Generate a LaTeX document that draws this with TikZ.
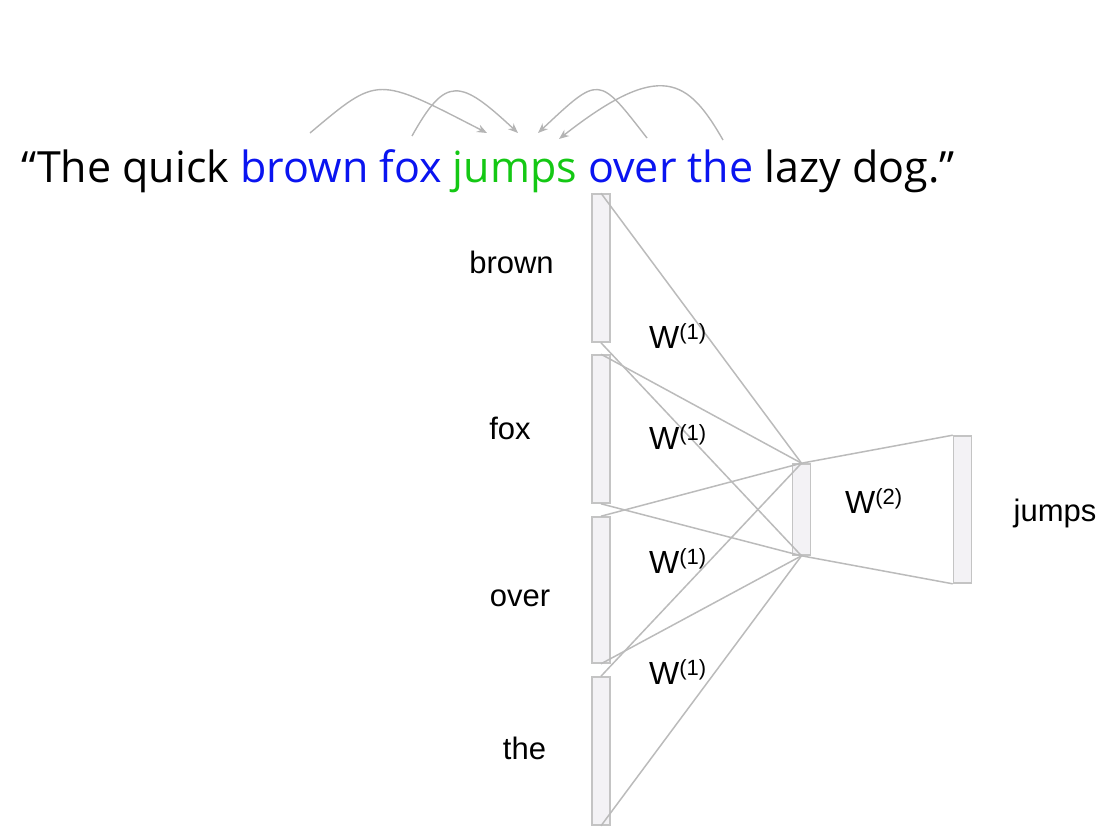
\documentclass[tikz,border=0pt]{standalone}
\usepackage{fontspec}
\setmainfont{Liberation Sans}
\newfontfamily\quotefont{Open Sans}
\usetikzlibrary{arrows.meta}
\definecolor{barfill}{HTML}{F3F2F5}
\definecolor{bardraw}{HTML}{C4C4C4}
\definecolor{linegray}{HTML}{BBBBBB}
\definecolor{arcgray}{HTML}{B4B4B4}
\definecolor{wblue}{HTML}{0A14F0}
\definecolor{wgreen}{HTML}{14C814}
\tikzset{
  bar/.style={draw=bardraw, fill=barfill, line width=1.6pt, rectangle, inner sep=0pt, minimum width=18pt},
  conn/.style={draw=linegray, line width=1.5pt},
  arc/.style={draw=arcgray, line width=1.4pt, -{Stealth[length=10pt,width=8pt]}},
  lbl/.style={font=\fontsize{31}{36}\selectfont, anchor=base, inner sep=0pt},
  wlbl/.style={font=\fontsize{32}{36}\selectfont, anchor=base west, inner sep=0pt},
}
\newcommand{\Wsup}[1]{W\raisebox{9pt}{\fontsize{22}{26}\selectfont(#1)}}
\begin{document}
\begin{tikzpicture}[x=1pt,y=-1pt]
\useasboundingbox (0,0) rectangle (1117,835);
% sentence
\node[anchor=base west, inner sep=0pt, font=\quotefont\fontsize{43}{52}\selectfont] (sent) at (21,182)
  {“The quick \textcolor{wblue}{brown fox} \textcolor{wgreen}{jumps} \textcolor{wblue}{over the} lazy dog.”};
% context arcs
\coordinate (a1s) at (310,133); \coordinate (a1e) at (487,133);
\coordinate (a2s) at (412,136); \coordinate (a2e) at (518,133);
\coordinate (a3s) at (647,138); \coordinate (a3e) at (538,133);
\coordinate (a4s) at (723,140); \coordinate (a4e) at (559,139);
\draw[arc] (a1s) .. controls (379,75) and (376,76) .. (a1e);
\draw[arc] (a2s) .. controls (446,75) and (460,79) .. (a2e);
\draw[arc] (a3s) .. controls (598,75) and (600,75) .. (a3e);
\draw[arc] (a4s) .. controls (688,79) and (661,59) .. (a4e);
% bars
\node[bar, minimum height=148pt] (bbrown) at (601,268) {};
\node[bar, minimum height=148pt] (bfox) at (601,429) {};
\node[bar, minimum height=146pt] (bover) at (601,590) {};
\node[bar, minimum height=148pt] (bthe) at (601,751) {};
\node[bar, minimum height=91pt] (hid) at (801.5,509.5) {};
\node[bar, minimum height=147pt] (outb) at (962.5,509.5) {};
% connectors
\foreach \b in {bbrown,bfox,bover,bthe}{
  \draw[conn] (\b.north) -- (hid.north);
  \draw[conn] (\b.south) -- (hid.south);
}
\draw[conn] (hid.north) -- (outb.north west);
\draw[conn] (hid.south) -- (outb.south west);
% labels
\node[lbl] (lbrown) at (511.5,273) {brown};
\node[lbl] (lfox) at (510,439) {fox};
\node[lbl] (lover) at (520,606) {over};
\node[lbl] (lthe) at (524.5,759) {the};
\node[lbl] (ljumps) at (1055,521) {jumps};
\node[wlbl] (w1) at (649,348) {\Wsup{1}};
\node[wlbl] (w2) at (649,449) {\Wsup{1}};
\node[wlbl] (w3) at (649,573) {\Wsup{1}};
\node[wlbl] (w4) at (649,684) {\Wsup{1}};
\node[wlbl] (w5) at (845,513) {\Wsup{2}};
\end{tikzpicture}
\end{document}
